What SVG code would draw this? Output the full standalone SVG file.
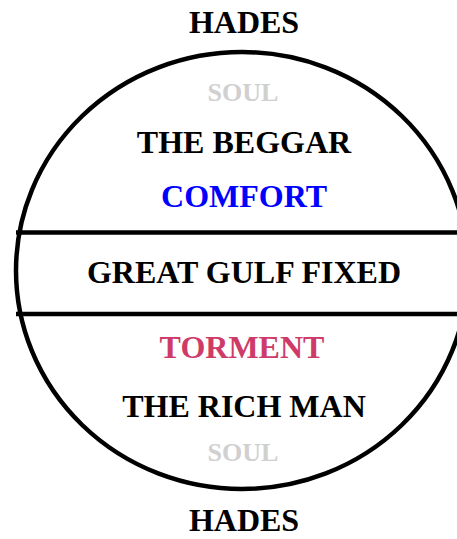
<svg xmlns="http://www.w3.org/2000/svg" width="457" height="539" viewBox="0 0 457 539">
<style>
text{font-family:"Liberation Serif","Times New Roman",serif;font-weight:bold;text-anchor:middle}
.big{font-size:32px;fill:#000}
.soul{font-size:26px;fill:#d0d0d0}
.line{stroke:#000;stroke-width:4.5;fill:none}
</style>
<rect width="457" height="539" fill="#fff"/>
<g id="connectors">
<ellipse class="line" cx="242" cy="270.5" rx="226" ry="218.5"/>
<line class="line" x1="16" y1="232.5" x2="470" y2="232.5"/>
<line class="line" x1="16" y1="314" x2="470" y2="314"/>
</g>
<g id="hades-top"><text class="big" x="244" y="33">HADES</text></g>
<g id="soul-top"><text class="soul" x="243" y="101">SOUL</text></g>
<g id="beggar"><text class="big" x="244" y="153">THE BEGGAR</text></g>
<g id="comfort"><text class="big" x="244" y="207" style="fill:#0000ff">COMFORT</text></g>
<g id="gulf"><text class="big" x="244" y="283">GREAT GULF FIXED</text></g>
<g id="torment"><text class="big" x="242" y="358" style="fill:#cf3b69">TORMENT</text></g>
<g id="richman"><text class="big" x="244" y="417">THE RICH MAN</text></g>
<g id="soul-bottom"><text class="soul" x="243" y="461">SOUL</text></g>
<g id="hades-bottom"><text class="big" x="244" y="531">HADES</text></g>
</svg>
